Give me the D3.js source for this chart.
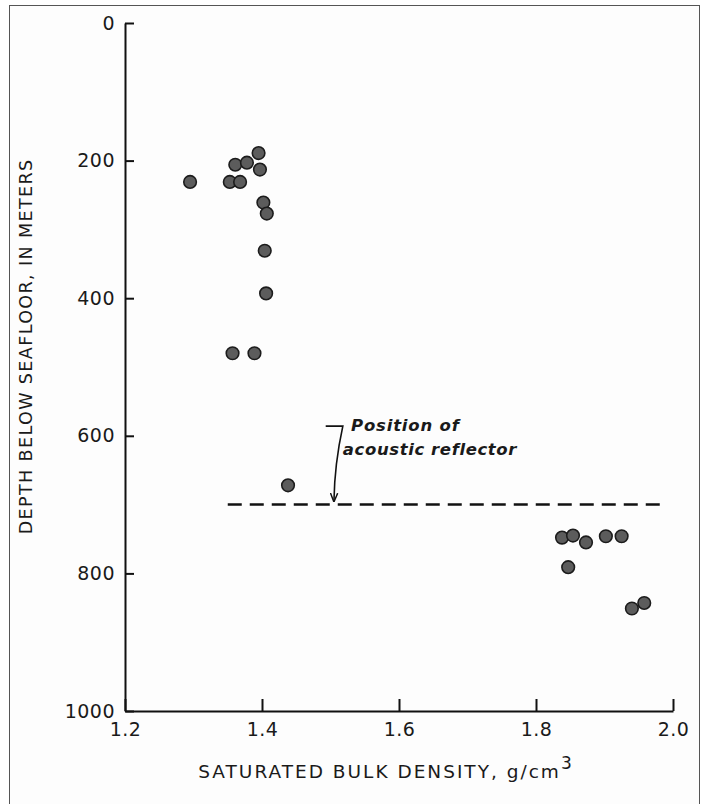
<!DOCTYPE html>
<html>
<head>
<meta charset="utf-8">
<script src="https://cdn.jsdelivr.net/npm/d3@7"></script>
<style>
  html, body { margin: 0; padding: 0; background: #ffffff; }
  svg { display: block; }
  text { font-family: "DejaVu Sans", "Liberation Sans", sans-serif; fill: #1a1a1a; }
</style>
</head>
<body>
<svg id="chart" width="704" height="804"></svg>
<script>
// ---- data ----
const density = [1.295, 1.353, 1.368, 1.361, 1.378, 1.395, 1.397, 1.402, 1.407, 1.404, 1.406, 1.357, 1.389,
                 1.438, 1.838, 1.854, 1.873, 1.902, 1.925, 1.847, 1.940, 1.958];
const depth   = [231, 231, 231, 206, 203, 189, 213, 261, 277, 331, 393, 480, 480,
                 672, 748, 745, 755, 746, 746, 791, 851, 843];
const xTicks = [1.2, 1.4, 1.6, 1.8, 2.0];
const yTicks = [0, 200, 400, 600, 800, 1000];
const reflectorDepth = 700;
const reflectorExtent = [1.35, 1.99];
const annotationLines = ["Position of", "acoustic reflector"];
const xTitle = "SATURATED BULK DENSITY, g/cm";
const yTitle = "DEPTH BELOW SEAFLOOR, IN METERS";

const svg = d3.select("#chart");

// page border
svg.append("rect").attr("x", 9.5).attr("y", 5.5).attr("width", 690).attr("height", 820)
  .attr("fill", "#fdfdfd").attr("stroke", "#555").attr("stroke-width", 1);

const x = d3.scaleLinear().domain([1.2, 2.0]).range([125, 673]);
const y = d3.scaleLinear().domain([0, 1000]).range([23, 711]);

// y axis
const gy = svg.append("g").attr("transform", `translate(${x(1.2)},0)`)
  .call(d3.axisLeft(y).tickValues(yTicks).tickSizeInner(-9).tickSizeOuter(0).tickPadding(10).tickFormat(d3.format("d")));
// x axis
const gx = svg.append("g").attr("transform", `translate(0,${y(1000)})`)
  .call(d3.axisBottom(x).tickValues(xTicks).tickSizeInner(-12).tickSizeOuter(0).tickPadding(12).tickFormat(d3.format(".1f")));

[gx, gy].forEach(g => {
  g.select(".domain").attr("stroke", "#111").attr("stroke-width", 2);
  g.selectAll(".tick line").attr("stroke", "#111").attr("stroke-width", 2);
  g.selectAll(".tick text").attr("font-size", 19).attr("fill", "#1a1a1a")
    .style("font-family", "'DejaVu Sans', sans-serif").attr("letter-spacing", 0.5);
});

// axis titles
const xt = svg.append("text").attr("x", 386).attr("y", 778).attr("text-anchor", "middle")
  .attr("font-size", 18.5).attr("letter-spacing", 2);
xt.append("tspan").text(xTitle);
xt.append("tspan").attr("dy", -9).attr("font-size", 17).text("3");

svg.append("text").attr("transform", `translate(27,${y(470)}) rotate(-90)`)
  .attr("text-anchor", "middle").attr("dominant-baseline", "middle")
  .attr("font-size", 17.5).attr("letter-spacing", 1.4).text(yTitle);

// reflector dashed line
svg.append("line")
  .attr("x1", x(reflectorExtent[0])).attr("x2", x(reflectorExtent[1]))
  .attr("y1", y(reflectorDepth)).attr("y2", y(reflectorDepth))
  .attr("stroke", "#111").attr("stroke-width", 2.5).attr("stroke-dasharray", "14,8");

// annotation arrow
svg.append("defs").append("marker").attr("id", "ah").attr("viewBox", "0 0 10 10")
  .attr("refX", 9).attr("refY", 5).attr("markerWidth", 9).attr("markerHeight", 9)
  .attr("orient", "auto").attr("markerUnits", "userSpaceOnUse")
  .append("path").attr("d", "M0,1 L10,5 L0,9").attr("fill", "none").attr("stroke", "#111").attr("stroke-width", 1.6);

const ay0 = y(586), ax1 = x(1.505), ay1 = y(695);
svg.append("path")
  .attr("d", `M${x(1.493)},${ay0} L${x(1.518)},${ay0} Q${x(1.506)},${(ay0 + ay1) / 2} ${ax1},${ay1}`)
  .attr("fill", "none").attr("stroke", "#111").attr("stroke-width", 1.6)
  .attr("marker-end", "url(#ah)");

svg.append("text").attr("x", x(1.530)).attr("y", y(593)).attr("font-size", 16.5)
  .attr("font-style", "italic").attr("font-weight", "bold").attr("letter-spacing", 0.8)
  .text(annotationLines[0]);
svg.append("text").attr("x", x(1.518)).attr("y", y(628)).attr("font-size", 16.5)
  .attr("font-style", "italic").attr("font-weight", "bold").attr("letter-spacing", 0.6)
  .text(annotationLines[1]);

// points
const pts = density.map((d, i) => ({ d, z: depth[i] }));
svg.append("g").selectAll("circle").data(pts).join("circle")
  .attr("cx", p => x(p.d)).attr("cy", p => y(p.z)).attr("r", 6.3)
  .attr("fill", "#5c5c5c").attr("stroke", "#1c1c1c").attr("stroke-width", 1.6);
</script>
</body>
</html>
